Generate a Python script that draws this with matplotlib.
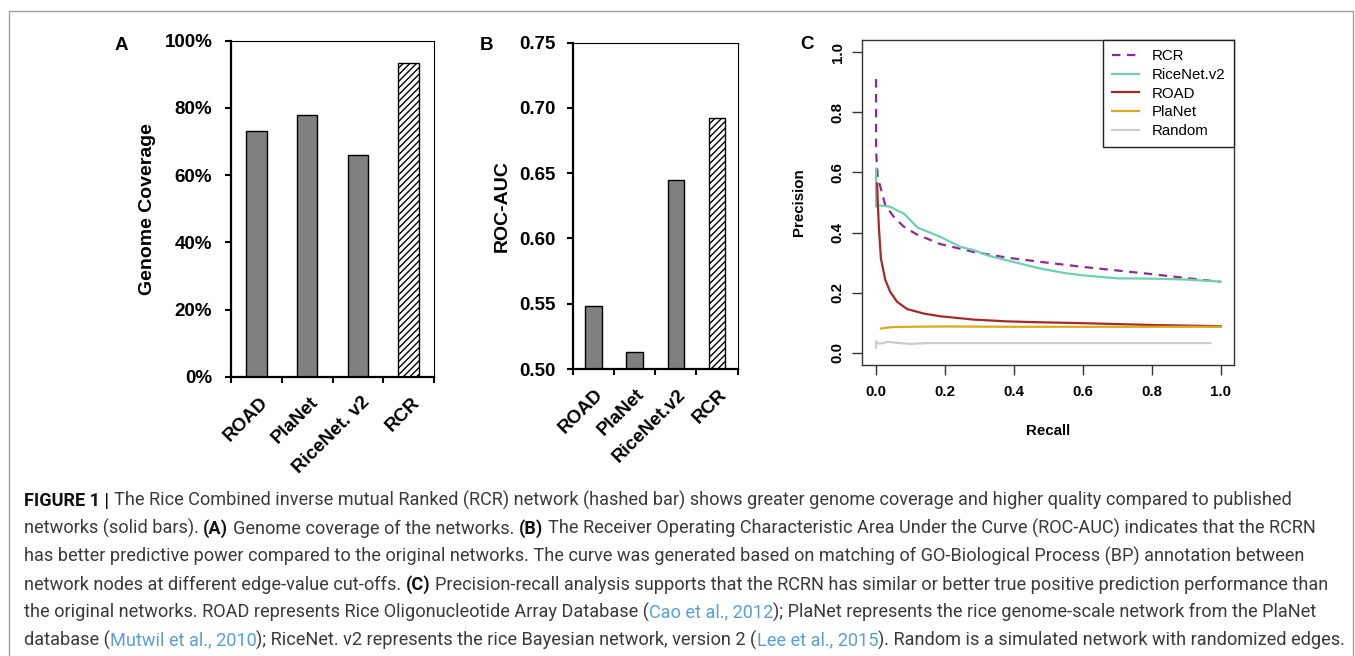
import matplotlib
matplotlib.use("Agg")
import matplotlib.pyplot as plt
from matplotlib.lines import Line2D
from matplotlib.transforms import ScaledTranslation
from matplotlib.ticker import FuncFormatter, MultipleLocator

# ---------------- data ----------------
categories_A = ["ROAD", "PlaNet", "RiceNet. v2", "RCR"]
coverage_pct = [73.2, 77.8, 65.9, 93.4]

categories_B = ["ROAD", "PlaNet", "RiceNet.v2", "RCR"]
roc_auc = [0.548, 0.513, 0.645, 0.6925]

rcr_recall = [0.0, 0.0, 0.001, 0.005, 0.013, 0.027, 0.051, 0.08, 0.118, 0.186, 0.282, 0.379, 0.475, 0.6, 0.7, 0.8, 0.9, 1.0]
rcr_prec = [0.91, 0.70, 0.65, 0.58, 0.55, 0.49, 0.453, 0.42, 0.394, 0.362, 0.336, 0.317, 0.303, 0.286, 0.274, 0.262, 0.249, 0.236]

rice_recall = [0.0, 0.0, 0.004, 0.013, 0.041, 0.0655, 0.08, 0.12, 0.186, 0.244, 0.282, 0.33, 0.379, 0.475, 0.55, 0.6, 0.7, 0.8, 0.9, 1.0]
rice_prec = [0.613, 0.486, 0.49, 0.49, 0.486, 0.471, 0.464, 0.417, 0.386, 0.353, 0.342, 0.322, 0.308, 0.281, 0.265, 0.258, 0.248, 0.247, 0.244, 0.237]

road_recall = [0.003, 0.005, 0.008, 0.014, 0.027, 0.041, 0.061, 0.09, 0.138, 0.186, 0.282, 0.379, 0.475, 0.6, 0.8, 1.0]
road_prec = [0.563, 0.50, 0.42, 0.314, 0.242, 0.203, 0.17, 0.146, 0.131, 0.122, 0.111, 0.105, 0.102, 0.099, 0.093, 0.089]

planet_recall = [0.014, 0.03, 0.051, 0.1, 0.2, 0.4, 0.6, 0.8, 1.0]
planet_prec = [0.081, 0.084, 0.086, 0.087, 0.088, 0.087, 0.087, 0.087, 0.087]

random_recall = [0.0, 0.0, 0.008, 0.02, 0.035, 0.058, 0.1, 0.15, 0.3, 0.5, 0.7, 0.97]
random_prec = [0.017, 0.039, 0.031, 0.033, 0.037, 0.034, 0.030, 0.033, 0.033, 0.033, 0.033, 0.033]

pr_series = [
    ("RCR", rcr_recall, rcr_prec, "#8E2A93", "dashed"),
    ("RiceNet.v2", rice_recall, rice_prec, "#6DD0B0", "solid"),
    ("ROAD", road_recall, road_prec, "#A32A2A", "solid"),
    ("PlaNet", planet_recall, planet_prec, "#D9A91E", "solid"),
    ("Random", random_recall, random_prec, "#CCCCCC", "solid"),
]

caption_lines = [
    [("FIGURE 1 |", "b"), (" The Rice Combined inverse mutual Ranked (RCR) network (hashed bar) shows greater genome coverage and higher quality compared to published", "n")],
    [("networks (solid bars). ", "n"), ("(A)", "b"), (" Genome coverage of the networks. ", "n"), ("(B)", "b"),
     (" The Receiver Operating Characteristic Area Under the Curve (ROC-AUC) indicates that the RCRN", "n")],
    [("has better predictive power compared to the original networks. The curve was generated based on matching of GO-Biological Process (BP) annotation between", "n")],
    [("network nodes at different edge-value cut-offs. ", "n"), ("(C)", "b"),
     (" Precision-recall analysis supports that the RCRN has similar or better true positive prediction performance than", "n")],
    [("the original networks. ROAD represents Rice Oligonucleotide Array Database (", "n"), ("Cao et al., 2012", "c"),
     ("); PlaNet represents the rice genome-scale network from the PlaNet", "n")],
    [("database (", "n"), ("Mutwil et al., 2010", "c"), ("); RiceNet. v2 represents the rice Bayesian network, version 2 (", "n"),
     ("Lee et al., 2015", "c"), ("). Random is a simulated network with randomized edges.", "n")],
]

# ---------------- figure ----------------
W, H = 1355, 656
fig = plt.figure(figsize=(W / 100, H / 100), dpi=100)
fig.patch.set_facecolor("white")

def ax_rect(l, t, r, b):
    return [l / W, 1 - b / H, (r - l) / W, (b - t) / H]

BAR_FONT = "Liberation Sans"

def bar_panel(rect, cats, vals, ylim, yfmt, ystep, ylab, ylab_x, lab_dx, lab_dy, ypad):
    ax = fig.add_axes(rect)
    x = list(range(len(cats)))
    colors = ["#808080"] * (len(cats) - 1) + ["white"]
    bars = ax.bar(x, vals, width=0.4, color=colors, edgecolor="black", linewidth=1.0, zorder=2)
    bars[-1].set_hatch("/////")
    ax.set_xlim(-0.5, len(cats) - 0.5)
    ax.set_ylim(*ylim)
    ax.yaxis.set_major_locator(MultipleLocator(ystep))
    ax.yaxis.set_major_formatter(FuncFormatter(yfmt))
    ax.set_xticks([i - 0.5 for i in range(len(cats) + 1)])
    ax.set_xticklabels([])
    for s in ["left", "bottom"]:
        ax.spines[s].set_linewidth(1.6)
    for s in ["top", "right"]:
        ax.spines[s].set_linewidth(0.8)
    ax.tick_params(axis="both", direction="out", length=4.5, width=1.5, color="black")
    ax.tick_params(axis="y", pad=ypad, labelsize=13.5)
    for lab in ax.get_yticklabels():
        lab.set_fontweight("bold")
        lab.set_fontfamily(BAR_FONT)
    off = ScaledTranslation(lab_dx / 100, -lab_dy / 100, fig.dpi_scale_trans)
    for i, c in enumerate(cats):
        ax.text(i, 0, c, transform=ax.get_xaxis_transform() + off, rotation=45,
                rotation_mode="anchor", ha="right", va="center", fontsize=13.5,
                fontweight="bold", family=BAR_FONT)
    ax.text(ylab_x, 0.5, ylab, transform=ax.transAxes, rotation=90, ha="center", va="center",
            fontsize=14, fontweight="bold", family=BAR_FONT)
    return ax

axA = bar_panel(ax_rect(231, 40.7, 434, 376.7), categories_A, coverage_pct, (0, 100),
                lambda v, p: f"{v:.0f}%", 20, "Genome Coverage", -0.409, 9, 23, 9)
axB = bar_panel(ax_rect(572.7, 42.7, 737.7, 369), categories_B, roc_auc, (0.5, 0.75),
                lambda v, p: f"{v:.2f}", 0.05, "ROC-AUC", -0.425, 7, 23, 8)

# ---------------- panel C ----------------
axC = fig.add_axes(ax_rect(862.3, 40, 1234.4, 365))
for name, rx, py, col, ls in pr_series:
    if ls == "dashed":
        axC.plot(rx, py, color=col, lw=1.6, linestyle=(0, (3.8, 2.9)), label=name)
    else:
        axC.plot(rx, py, color=col, lw=1.6, label=name)
axC.set_xlim(-0.04, 1.04)
axC.set_ylim(-0.04, 1.04)
axC.set_xticks([0, 0.2, 0.4, 0.6, 0.8, 1.0])
axC.set_yticks([0, 0.2, 0.4, 0.6, 0.8, 1.0])
axC.xaxis.set_major_formatter(FuncFormatter(lambda v, p: f"{v:.1f}"))
axC.yaxis.set_major_formatter(FuncFormatter(lambda v, p: f"{v:.1f}"))
for s in axC.spines.values():
    s.set_linewidth(1.0)
    s.set_color("#333333")
axC.tick_params(axis="both", direction="out", length=7.2, width=1.0, color="#333333", labelsize=10.8)
axC.tick_params(axis="x", pad=7)
axC.tick_params(axis="y", pad=5.5, labelrotation=90)
for lab in axC.get_xticklabels() + axC.get_yticklabels():
    lab.set_fontweight("bold")
    lab.set_fontfamily(BAR_FONT)
for lab in axC.get_yticklabels():
    lab.set_va("center")
axC.text(-0.170, 0.5, "Precision", transform=axC.transAxes, rotation=90, ha="center", va="center",
         fontsize=10.8, fontweight="bold", family=BAR_FONT)
axC.text(0.5, -0.203, "Recall", transform=axC.transAxes, ha="center", va="center",
         fontsize=10.8, fontweight="bold", family=BAR_FONT)
leg = axC.legend(loc="upper right", bbox_to_anchor=(1, 1), borderaxespad=0, fancybox=False,
                 framealpha=1, edgecolor="#222222", prop={"family": BAR_FONT, "size": 10.8},
                 handlelength=1.8, handletextpad=0.8, borderpad=0.62, labelspacing=0.31)
leg.get_frame().set_linewidth(1.0)

# panel letters
for letter, px, py in [("A", 121.7, 45.8), ("B", 486.7, 45), ("C", 806.5, 44.5)]:
    fig.text(px / W, 1 - py / H, letter, ha="center", va="center", fontsize=13.5,
             fontweight="bold", family=BAR_FONT)

# outer frame
frame_kw = dict(transform=fig.transFigure, color="#a0a0a0", lw=1.0)
fig.add_artist(Line2D([8.5 / W, 8.5 / W, 1352.5 / W, 1352.5 / W],
                      [0, 1 - 11 / H, 1 - 11 / H, 0], **frame_kw))

# ---------------- caption ----------------
renderer = fig.canvas.get_renderer()
CAP_FONT = ["Roboto", "DejaVu Sans"]
styles = {
    "n": dict(color="#3a3a3a", fontweight="normal", family=CAP_FONT),
    "b": dict(color="#111111", fontweight="bold", family=CAP_FONT),
    "c": dict(color="#5a9fd4", fontweight="normal", family=CAP_FONT),
}

def text_w(s, st, size):
    t = fig.text(0, 0, s, fontsize=size, **styles[st])
    w = t.get_window_extent(renderer).width
    t.remove()
    return w

def draw_line(segs, x0, ybase, size, draw=True):
    x = x0
    sp = {k: text_w("n n", k, size) - text_w("nn", k, size) for k in styles}
    for s, st in segs:
        lead = len(s) - len(s.lstrip(" "))
        trail = len(s) - len(s.rstrip(" "))
        core = s.strip(" ")
        x += lead * sp[st]
        if core:
            if draw:
                t = fig.text(x / W, 1 - ybase / H, core, fontsize=size, ha="left", va="baseline", **styles[st])
                x += t.get_window_extent(renderer).width
            else:
                x += text_w(core, st, size)
        x += trail * sp[st]
    return x

x_start, x_end_line1 = 24, 1291
test_size = 10.0
w_test = draw_line(caption_lines[0], x_start, 0, test_size, draw=False) - x_start
cap_size = test_size * (x_end_line1 - x_start) / w_test
line_centers = [499, 527, 555, 583, 611, 639]
for segs, yc in zip(caption_lines, line_centers):
    draw_line(segs, x_start, yc + 0.36 * cap_size * 100 / 72, cap_size)

fig.savefig("out.png", dpi=100, facecolor="white")
